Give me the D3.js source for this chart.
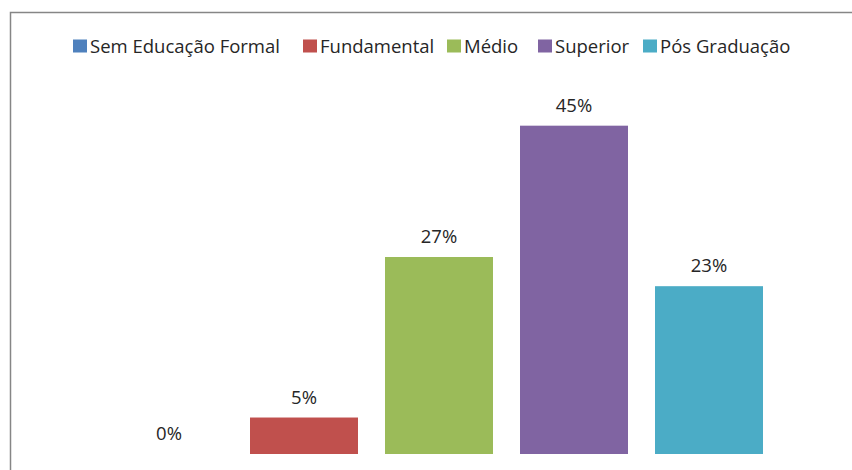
<!DOCTYPE html>
<html>
<head>
<meta charset="utf-8">
<script src="https://cdn.jsdelivr.net/npm/d3@7"></script>
<style>
  html, body { margin: 0; padding: 0; background: #fff; }
  svg { display: block; font-family: "Open Sans", sans-serif; }
</style>
</head>
<body>
<svg id="chart" width="852" height="470"></svg>
<script>
// Education level distribution
const categories = ["Sem Educação Formal", "Fundamental", "Médio", "Superior", "Pós Graduação"];
const values = [0, 5, 27, 45, 23];
const palette = ["#4F81BD", "#C0504D", "#9BBB59", "#8064A2", "#4BACC6"];

const svg = d3.select("#chart");
const textColor = "#262626";
const fontSize = 18.5;

// Outer chart frame (extends past the right and bottom edges)
svg.append("rect")
  .attr("x", 10.5).attr("y", 12.5)
  .attr("width", 900).attr("height", 500)
  .attr("fill", "none")
  .attr("stroke", "#868686")
  .attr("stroke-width", 1.5);

const x = d3.scaleBand()
  .domain(categories)
  .range([101.5, 776.5])
  .paddingInner(0.2)
  .paddingOuter(0.1);

const y = d3.scaleLinear()
  .domain([0, 50])
  .range([454, 89.2]);

const g = svg.append("g");

g.selectAll("rect.bar")
  .data(categories)
  .join("rect")
  .attr("class", "bar")
  .attr("x", d => x(d))
  .attr("width", x.bandwidth())
  .attr("y", (d, i) => y(values[i]))
  .attr("height", (d, i) => y(0) - y(values[i]))
  .attr("fill", (d, i) => palette[i]);

g.selectAll("text.val")
  .data(categories)
  .join("text")
  .attr("class", "val")
  .attr("x", d => x(d) + x.bandwidth() / 2)
  .attr("y", (d, i) => y(values[i]) - 14)
  .attr("text-anchor", "middle")
  .attr("font-size", fontSize)
  .attr("fill", textColor)
  .text((d, i) => values[i] + "%");

// Legend: swatch + label at fixed slots along the top
const legendSlots = [73, 303, 447, 538, 643];
const legend = svg.append("g");
categories.forEach((c, i) => {
  const lx = legendSlots[i];
  legend.append("rect")
    .attr("x", lx).attr("y", 39.5)
    .attr("width", 14).attr("height", 13)
    .attr("fill", palette[i]);
  legend.append("text")
    .attr("x", lx + 17).attr("y", 52.5)
    .attr("font-size", fontSize)
    .attr("fill", textColor)
    .text(c);
});
</script>
</body>
</html>
